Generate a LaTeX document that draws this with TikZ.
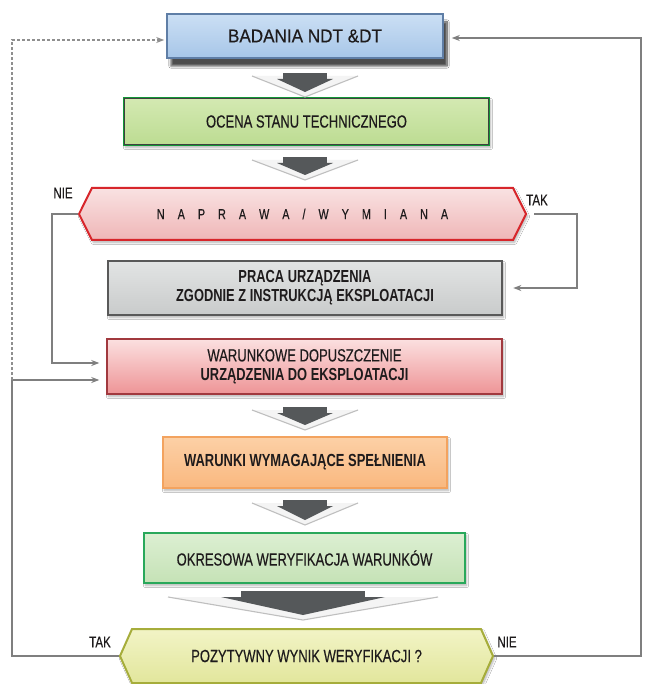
\documentclass[tikz,border=0pt]{standalone}
\usepackage{fontspec}
\setmainfont{Liberation Sans}[FakeStretch=0.74, UprightFeatures={FakeBold=0.35}]
\newfontfamily\headfont{Liberation Sans}[FakeStretch=0.92, FakeBold=0.4]
\usetikzlibrary{arrows.meta,shapes.symbols,shadows.blur,calc}

\definecolor{txt}{HTML}{1E1B1C}
\definecolor{linkgray}{HTML}{7F7F7F}
\definecolor{dotgray}{HTML}{8F8F8F}
\definecolor{arrowdark}{HTML}{55585A}

% funnel-like block arrow between two boxes:
% #1 centre x, #2 top y, #3 half width of the wings, #4 depth,
% #5 half width of the head, #6 half width of the stem, #7 wing offset
\newcommand\DownFunnel[7]{%
  \fill[gray!9] (#1-#3,#2+#7) -- (#1,#2+#4) -- (#1+#3,#2+#7) -- cycle;
  \draw[gray!50, line width=1.1pt, line join=round]
    (#1-#3,#2+#7) -- (#1,#2+#4) -- (#1+#3,#2+#7);
  \fill[arrowdark] (#1-#6,#2) rectangle (#1+#6,#2+6);
  \fill[arrowdark] (#1-#5,#2+6) -- (#1+#5,#2+6) -- (#1,#2+#4-5) -- cycle;
}

\tikzset{
  box/.style={rectangle, inner sep=0pt, align=center, text=txt,
    font=\fontsize{17.6}{19}\selectfont,
    blur shadow={shadow xshift=1.5pt, shadow yshift=-2.5pt, shadow blur steps=6, shadow opacity=30}},
  hexbox/.style={box, shape=signal, signal to=west and east},
  link/.style={draw=linkgray, line width=1.3pt, -{Stealth[length=8pt,width=6pt]}},
  dotlink/.style={draw=dotgray, line width=1.5pt, dash pattern=on 3pt off 2pt,
    -{Stealth[length=8pt,width=6pt]}},
  lbl/.style={inner sep=0pt, text=txt, font=\fontsize{15.6}{16}\selectfont},
}

\begin{document}
\begin{tikzpicture}[x=1pt, y=-1pt]
\useasboundingbox[fill=white] (0,0) rectangle (644,684);

% boxes of the flow
\node[box, minimum width=276pt, minimum height=44pt, top color={rgb,255:red,203;green,223;blue,244},
  bottom color={rgb,255:red,167;green,198;blue,232}, draw={rgb,255:red,95;green,126;blue,166}, line width=1.6pt,
  blur shadow={shadow xshift=4pt, shadow yshift=-8pt, shadow blur steps=10, shadow opacity=45}]
  (bad) at (305,36) {\headfont\fontsize{18.6}{20}\selectfont BADANIA NDT \&DT};

\node[box, minimum width=365pt, minimum height=47pt, top color={rgb,255:red,212;green,233;blue,178},
  bottom color={rgb,255:red,188;green,220;blue,146}, draw={rgb,255:red,19;green,150;blue,54}, line width=2.6pt]
  (oce) at (306.5,121.5) {OCENA STANU TECHNICZNEGO};
\draw[black!75, line width=0.7pt] ([shift={(1.6pt,-1.6pt)}]oce.north west)
  rectangle ([shift={(-1.6pt,1.6pt)}]oce.south east);

\node[hexbox, minimum width=447pt, minimum height=52pt, signal pointer angle=127,
  top color={rgb,255:red,249;green,226;blue,226}, bottom color={rgb,255:red,239;green,182;blue,183},
  draw={rgb,255:red,215;green,38;blue,43}, line width=2pt]
  (nap) at (302.5,214) {\fontsize{14.6}{16}\selectfont\spaceskip=13pt\relax N A P R A W A / W Y M I A N A};

\node[box, minimum width=394pt, minimum height=54pt, top color={rgb,255:red,226;green,228;blue,228},
  bottom color={rgb,255:red,201;green,203;blue,203}, draw={rgb,255:red,89;green,89;blue,89}, line width=2.6pt,
  font=\fontsize{17.4}{19}\selectfont\bfseries]
  (pra) at (305,288) {PRACA URZĄDZENIA\\ZGODNIE Z INSTRUKCJĄ EKSPLOATACJI};

\node[box, minimum width=395pt, minimum height=55pt, top color={rgb,255:red,251;green,224;blue,224},
  bottom color={rgb,255:red,238;green,148;blue,150}, draw={rgb,255:red,161;green,57;blue,62}, line width=1.5pt]
  (war) at (304.5,366.5) {WARUNKOWE DOPUSZCZENIE\\{\fontsize{17.4}{19}\selectfont\bfseries URZĄDZENIA DO EKSPLOATACJI}};

\node[box, minimum width=284pt, minimum height=51pt, top color={rgb,255:red,252;green,208;blue,166},
  bottom color={rgb,255:red,249;green,184;blue,127}, draw={rgb,255:red,243;green,163;blue,95}, line width=1.5pt,
  font=\fontsize{17.5}{19}\selectfont\bfseries]
  (wym) at (305,462.5) {WARUNKI WYMAGAJĄCE SPEŁNIENIA};

\node[box, minimum width=321pt, minimum height=50pt, top color={rgb,255:red,220;green,239;blue,210},
  bottom color={rgb,255:red,197;green,226;blue,182}, draw={rgb,255:red,41;green,168;blue,91}, line width=2pt]
  (okr) at (304.5,558) {OKRESOWA WERYFIKACJA WARUNKÓW};

\node[hexbox, minimum width=373pt, minimum height=54pt, signal pointer angle=132,
  top color={rgb,255:red,242;green,244;blue,198}, bottom color={rgb,255:red,226;green,230;blue,156},
  draw={rgb,255:red,166;green,173;blue,59}, line width=2pt]
  (poz) at (306.5,656) {POZYTYWNY WYNIK WERYFIKACJI ?};

% block arrows between the boxes
\DownFunnel{305}{73}{53}{24}{28}{22}{3}
\DownFunnel{305}{157}{53}{23}{28}{22}{3}
\DownFunnel{305}{407}{53}{23}{28}{22}{3}
\DownFunnel{305}{500}{53}{25}{28}{22}{3}
\DownFunnel{303}{591}{135}{29}{82}{62}{6}

% decision labels
\node[lbl] (nie1) at (63,193) {NIE};
\node[lbl] (tak1) at (537,200) {TAK};
\node[lbl] (tak2) at (100,642) {TAK};
\node[lbl] (nie2) at (507,642) {NIE};

% connectors
\coordinate (lc) at (12,380);
\draw[link, shorten >=7pt] (poz.west) -| (lc) -- (war.west |- lc);
\draw[dotlink, shorten >=2pt] (lc) |- ([yshift=-4pt]bad.west);
\draw[link, shorten >=8pt] (poz.east) -- (641,656) |- ([yshift=-2pt]bad.east);
\draw[link, shorten >=7pt] (nap.west) -- (52,214) |- ([yshift=3.5pt]war.west);
\draw[link, shorten >=10pt] ([xshift=7pt]nap.east) -- (577,214) |- (pra.east);
\end{tikzpicture}
\end{document}
